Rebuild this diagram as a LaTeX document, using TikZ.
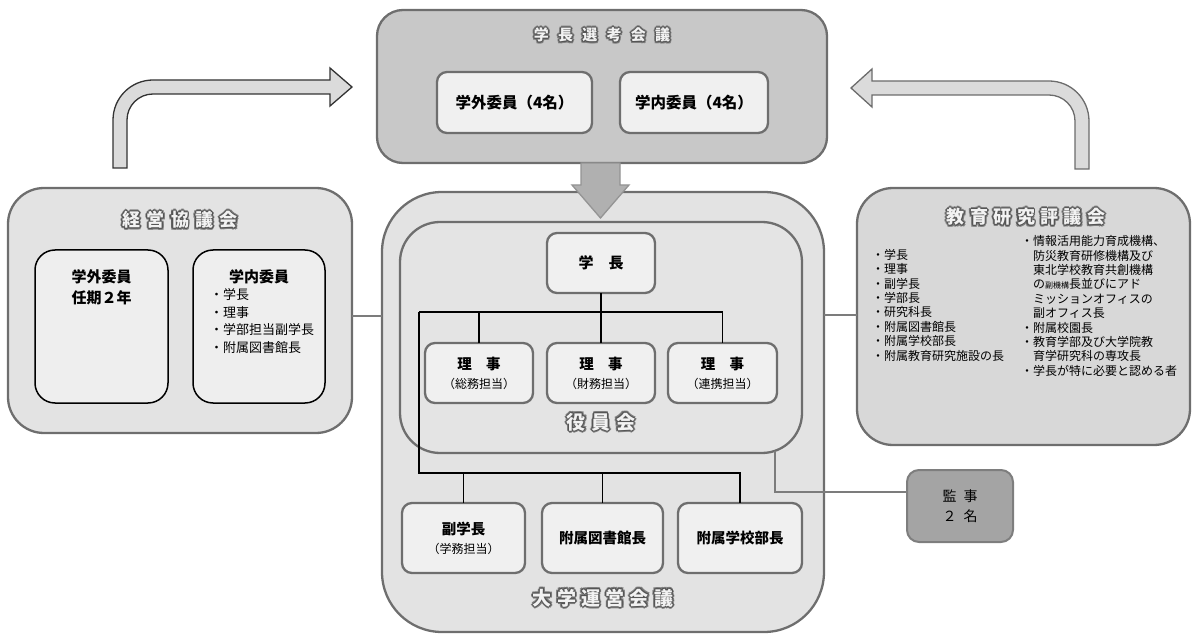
\documentclass[tikz,border=0pt]{standalone}
\usepackage{fontspec}
\setmainfont{Noto Sans CJK JP}
\usetikzlibrary{calc}

\definecolor{edge}{HTML}{6E6E6E}
\definecolor{topfill}{HTML}{C8C8C8}
\definecolor{panelfill}{HTML}{E3E3E3}
\definecolor{cardfill}{HTML}{F0F0F0}
\definecolor{auditfill}{HTML}{A4A4A4}
\definecolor{linkgray}{HTML}{7C7C7C}
\definecolor{glowc}{HTML}{555555}
\definecolor{glowsoft}{HTML}{7E7E7E}
\definecolor{titlefg}{HTML}{F2F2F2}

% haloed headings: shifted dark copies under a light copy
\newcommand\glowcopy[4]{\makebox[0pt][l]{\hspace*{#1}\raisebox{#2}{\textcolor{#3}{#4}}}}
\newcommand\glowtext[1]{%
  \glowcopy{2pt}{0pt}{glowsoft}{#1}\glowcopy{-2pt}{0pt}{glowsoft}{#1}%
  \glowcopy{0pt}{2pt}{glowsoft}{#1}\glowcopy{0pt}{-2pt}{glowsoft}{#1}%
  \glowcopy{1.4pt}{1.4pt}{glowsoft}{#1}\glowcopy{-1.4pt}{1.4pt}{glowsoft}{#1}%
  \glowcopy{1.4pt}{-1.4pt}{glowsoft}{#1}\glowcopy{-1.4pt}{-1.4pt}{glowsoft}{#1}%
  \glowcopy{1pt}{0pt}{glowc}{#1}\glowcopy{-1pt}{0pt}{glowc}{#1}%
  \glowcopy{0pt}{1pt}{glowc}{#1}\glowcopy{0pt}{-1pt}{glowc}{#1}%
  \glowcopy{.7pt}{.7pt}{glowc}{#1}\glowcopy{-.7pt}{.7pt}{glowc}{#1}%
  \glowcopy{.7pt}{-.7pt}{glowc}{#1}\glowcopy{-.7pt}{-.7pt}{glowc}{#1}%
  \textcolor{titlefg}{#1}}

\tikzset{
  panel/.style={draw=edge, line width=2.3pt, inner sep=0pt, outer sep=0pt},
  card/.style={panel, fill=cardfill, rounded corners=10pt, align=center,
    font=\fontsize{14.5}{19}\selectfont\bfseries},
  heading/.style={inner sep=0pt, font=\bfseries},
  tree/.style={draw=black, line width=1.6pt},
  link/.style={draw=linkgray, line width=2pt},
  listtxt/.style={inner sep=0pt, align=left, font=\fontsize{12}{14.4}\selectfont},
  bend arrow/.style={fill=gray!28, line width=1.3pt, line join=miter},
}

\begin{document}
\begin{tikzpicture}[x=1pt,y=-1pt]
\useasboundingbox (0,0) rectangle (1195,639);

% ---------- 学長選考会議 ----------
\node[panel, fill=topfill, rounded corners=26pt, minimum width=450pt, minimum height=153pt]
  (senko) at (602,86.5) {};
\node[heading, font=\fontsize{15}{18}\selectfont\bfseries] (senkoT) at (602,35)
  {\glowtext{学\hspace{0.62em}長\hspace{0.62em}選\hspace{0.62em}考\hspace{0.62em}会\hspace{0.62em}議}};
\node[card, minimum width=155pt, minimum height=61pt, font=\fontsize{15.5}{19}\selectfont\bfseries]
  (sgai) at (514.5,102.5) {学外委員（4名）};
\node[card, minimum width=148pt, minimum height=61pt, font=\fontsize{15.5}{19}\selectfont\bfseries]
  (snai) at (694,102.5) {学内委員（4名）};

% ---------- 経営協議会 ----------
\node[panel, fill=panelfill, rounded corners=36pt, minimum width=344pt, minimum height=245pt]
  (keiei) at (180,310.5) {};
\node[heading, font=\fontsize{18}{20}\selectfont\bfseries] (keieiT) at (180,220)
  {\glowtext{経\hspace{0.35em}営\hspace{0.35em}協\hspace{0.35em}議\hspace{0.35em}会}};
\node[draw=black, line width=1.5pt, fill=panelfill!60!white, rounded corners=20pt,
  minimum width=133pt, minimum height=153pt, inner sep=0pt] (kgai) at (101.5,326.5) {};
\node[draw=black, line width=1.5pt, fill=panelfill!60!white, rounded corners=20pt,
  minimum width=132pt, minimum height=153pt, inner sep=0pt] (knai) at (259,326.5) {};
\node[inner sep=0pt, align=center, anchor=north, font=\fontsize{15}{21}\selectfont\bfseries]
  (kgaiT) at (101.5,269) {学外委員\\任期２年};
\node[inner sep=0pt, font=\fontsize{15}{18}\selectfont\bfseries] (knaiT) at (259,277) {学内委員};
\node[listtxt, anchor=north west, font=\fontsize{13}{17.6}\selectfont] (knaiL) at (210,288.5)
  {・学長\\・理事\\・学部担当副学長\\・附属図書館長};

% ---------- 教育研究評議会 ----------
\node[panel, fill=panelfill!95!black, rounded corners=36pt, minimum width=333pt, minimum height=257pt]
  (kyoiku) at (1023.5,316.5) {};
\node[heading, font=\fontsize{18}{20}\selectfont\bfseries] (kyoikuT) at (1026,217)
  {\glowtext{教\hspace{0.3em}育\hspace{0.3em}研\hspace{0.3em}究\hspace{0.3em}評\hspace{0.3em}議\hspace{0.3em}会}};
\node[listtxt, anchor=north west] (kyL) at (872,249)
  {・学長\\・理事\\・副学長\\・学部長\\・研究科長\\・附属図書館長\\・附属学校部長\\・附属教育研究施設の長};
\node[listtxt, anchor=north west] (kyR) at (1021,235.5)
  {・情報活用能力育成機構、\\
   \hspace*{1em}防災教育研修機構及び\\
   \hspace*{1em}東北学校教育共創機構\\
   \hspace*{1em}の{\fontsize{8}{10}\selectfont 副機構}長並びにアド\\
   \hspace*{1em}ミッションオフィスの\\
   \hspace*{1em}副オフィス長\\
   ・附属校園長\\
   ・教育学部及び大学院教\\
   \hspace*{1em}育学研究科の専攻長\\
   ・学長が特に必要と認める者};

% ---------- 大学運営会議 / 役員会 ----------
\node[panel, fill=panelfill, rounded corners=60pt, minimum width=442pt, minimum height=440pt]
  (unei) at (603,412) {};
\node[panel, fill=panelfill!97!white, rounded corners=40pt, minimum width=402pt, minimum height=231pt]
  (yakuin) at (601,337.5) {};
\node[heading, font=\fontsize{19}{20}\selectfont\bfseries] (yakuinT) at (601,422)
  {\glowtext{役\hspace{0.3em}員\hspace{0.3em}会}};
\node[heading, font=\fontsize{19}{20}\selectfont\bfseries] (uneiT) at (603,598)
  {\glowtext{大\hspace{0.28em}学\hspace{0.28em}運\hspace{0.28em}営\hspace{0.28em}会\hspace{0.28em}議}};

\node[card, minimum width=108pt, minimum height=60pt, font=\fontsize{15}{18}\selectfont\bfseries]
  (gakucho) at (601,263) {学\hspace{1em}長};
\node[card, minimum width=108pt, minimum height=60pt] (riji1) at (479,373)
  {理\hspace{1em}事\\{\fontsize{12}{14}\selectfont\mdseries（総務担当）}};
\node[card, minimum width=108pt, minimum height=60pt] (riji2) at (601,373)
  {理\hspace{1em}事\\{\fontsize{12}{14}\selectfont\mdseries（財務担当）}};
\node[card, minimum width=109pt, minimum height=60pt] (riji3) at (722.5,373)
  {理\hspace{1em}事\\{\fontsize{12}{14}\selectfont\mdseries（連携担当）}};

\node[card, minimum width=123pt, minimum height=70pt] (fuku) at (463.5,538)
  {副学長\\{\fontsize{12}{14}\selectfont\mdseries（学務担当）}};
\node[card, minimum width=121pt, minimum height=70pt] (tosho) at (602.5,538) {附属図書館長};
\node[card, minimum width=124pt, minimum height=70pt] (gakko) at (740,538) {附属学校部長};

% ---------- 監事 ----------
\node[draw=glowsoft, line width=2pt, fill=auditfill, rounded corners=12pt, minimum width=106pt,
  minimum height=72pt, inner sep=0pt, align=center, font=\fontsize{14}{20}\selectfont]
  (kanji) at (960,506) {監\hspace{0.5em}事\\２\hspace{0.5em}名};

% ---------- organisation tree ----------
\coordinate (jT) at (419,312);
\coordinate (jB) at (419,473);
\draw[tree] (gakucho.south) -- (gakucho.south |- jT);
\draw[tree] (jT) -| (riji3.north);
\draw[tree] (riji1.north) -- (riji1.north |- jT);
\draw[tree] (riji2.north) -- (riji2.north |- jT);
\draw[tree] (jT) -- (jB) -| (gakko.north);
\draw[tree] (fuku.north) -- (fuku.north |- jB);
\draw[tree] (tosho.north) -- (tosho.north |- jB);

% ---------- side links ----------
\draw[link] (keiei.east |- 0,316) -- (unei.west |- 0,316);
\draw[link] (unei.east |- 0,315) -- (kyoiku.west |- 0,315);
\coordinate (kjTop) at (775,451);
\draw[link] (kjTop) |- (kanji.west |- 0,492);

% ---------- arrows ----------
\draw[fill=gray!62, draw=gray!80!black!70, line width=1.3pt, line join=miter]
  (581,163) -- (581,185) -- (572,185) -- (600.5,218) -- (629,185) -- (620,185) -- (620,163) -- cycle;

\draw[bend arrow, draw=black!80]
  (113,168) -- (113,120) arc(180:270:40) -- (330,80) -- (330,68) -- (352,87) -- (330,106)
  -- (330,94) -- (153,94) arc(270:180:26) -- (127,168) -- cycle;
\draw[bend arrow, draw=gray!85!black]
  (1089,169) -- (1089,121) arc(0:-90:40) -- (872,81) -- (872,69) -- (851,88) -- (872,107)
  -- (872,95) -- (1049,95) arc(-90:0:26) -- (1075,169) -- cycle;
\end{tikzpicture}
\end{document}
